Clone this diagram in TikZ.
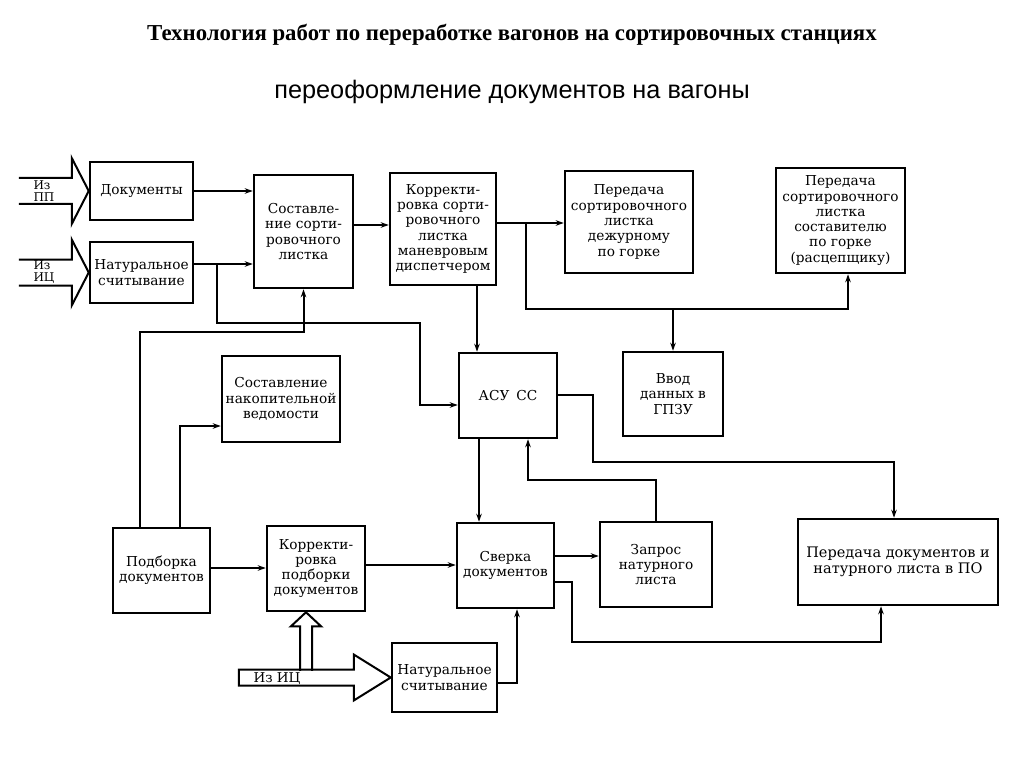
\documentclass[tikz,border=0pt]{standalone}
\usepackage{fontspec}
\setmainfont{DejaVu Serif}
\newfontfamily\titlefont{Liberation Serif}
\newfontfamily\subfont{Liberation Sans}
\usepackage{tikz}
\usetikzlibrary{arrows.meta,calc,positioning}

\begin{document}
\begin{tikzpicture}[
    x=1pt, y=-1pt,
    box/.style={rectangle, draw, line width=2.5pt, align=center, inner sep=2pt, font=\fontsize{13.7}{15.3}\selectfont},
    lbl/.style={align=left, inner sep=0pt, font=\fontsize{12}{11.5}\selectfont},
    fat/.style={draw, line width=2pt, line join=miter},
    arrow/.style={->, >={Stealth[length=8pt,width=5.5pt]}, line width=2pt}
]
    \useasboundingbox (0,0) rectangle (1024,767);

    % Titles
    \node[font=\titlefont\bfseries\fontsize{22.8}{24}\selectfont] (title) at (512,35) {Технология работ по переработке вагонов на сортировочных станциях};
    \node[font=\subfont\fontsize{25.3}{28}\selectfont] (subtitle) at (512,92) {переоформление документов на вагоны};

    % Inputs
    \node[box, minimum width=103, minimum height=58] (docs) at (141.5,191) {Документы};
    \node[box, minimum width=103, minimum height=61] (nattop) at (141.5,272.5) {Натуральное\\считывание};

    % Sorting list
    \node[box, minimum width=99, minimum height=113] (sost) at (303.5,231.5) {Составле-\\ние сорти-\\ровочного\\листка};
    \node[box, minimum width=106, minimum height=112] (korr) at (443,229) {Корректи-\\ровка сорти-\\ровочного\\листка\\маневровым\\диспетчером};
    \node[box, minimum width=128, minimum height=102] (dezh) at (629,222) {Передача\\сортировочного\\листка\\дежурному\\по горке};
    \node[box, minimum width=129, minimum height=105] (rasc) at (840.5,220.5) {Передача\\сортировочного\\листка\\составителю\\по горке\\(расцепщику)};

    % Middle row
    \node[box, minimum width=118, minimum height=86] (nakop) at (281,399) {Составление\\накопительной\\ведомости};
    \node[box, minimum width=98, minimum height=85] (asu) at (508,395.5) {АСУ\enspace СС};
    \node[box, minimum width=100, minimum height=84] (vvod) at (673,394) {Ввод\\данных в\\ГПЗУ};

    % Bottom row
    \node[box, minimum width=97, minimum height=85] (podb) at (161.5,570.5) {Подборка\\документов};
    \node[box, minimum width=98, minimum height=85] (korp) at (316,568.5) {Корректи-\\ровка\\подборки\\документов};
    \node[box, minimum width=97, minimum height=85] (sver) at (505.5,565.5) {Сверка\\документов};
    \node[box, minimum width=112, minimum height=85] (zapr) at (656,564.5) {Запрос\\натурного\\листа};
    \node[box, minimum width=200, minimum height=86, font=\fontsize{14.5}{16}\selectfont] (pered) at (898,562) {Передача документов и\\натурного листа в ПО};
    \node[box, minimum width=105, minimum height=69] (natbot) at (444.5,677.5) {Натуральное\\считывание};

    % Fat input arrows
    \draw[fat, shift={(docs.west)}] (-70,-13) -- (-17,-13) -- (-17,-33) -- (0,0) -- (-17,33) -- (-17,13) -- (-70,13);
    \draw[fat, shift={(nattop.west)}] (-70,-13) -- (-17,-13) -- (-17,-33) -- (0,0) -- (-17,33) -- (-17,13) -- (-70,13);
    \draw[fat, shift={(natbot.west)}] (-152,-8) -- (-37,-8) -- (-37,-23) -- (0,0) -- (-37,23) -- (-37,8) -- (-152,8) -- cycle;
    \draw[fat, shift={([xshift=-10pt]korp.south)}] (-6,58.5) -- (-6,14) -- (-15,14) -- (0,0) -- (15,14) -- (6,14) -- (6,58.5);
    \node[lbl] (frompp) at (44,191) {Из\\ПП};
    \node[lbl] (fromic) at (44,272) {Из\\ИЦ};
    \node[lbl, font=\fontsize{13.5}{14}\selectfont] (fromicb) at (277,679) {Из ИЦ};

    % Corner points
    \coordinate (n1) at ([yshift=8.5pt]nattop.east);
    \coordinate (n2) at (217,323);
    \coordinate (n3) at (420,323);
    \coordinate (s1) at ([yshift=6.5pt]sost.east);
    \coordinate (k1) at ([yshift=6pt]korr.east);
    \coordinate (k2) at (526,309);
    \coordinate (k3) at ([xshift=7.5pt]rasc.south);
    \coordinate (k4) at ([xshift=34pt]korr.south);
    \coordinate (a0) at ([yshift=0.5pt]asu.east);
    \coordinate (a1) at (593,462);
    \coordinate (a2) at ([xshift=-29pt]asu.south);
    \coordinate (a3) at ([xshift=-4pt]pered.north);
    \coordinate (a4) at ([yshift=-9.5pt]asu.west);
    \coordinate (z1) at (528,480);
    \coordinate (v1) at ([yshift=9.5pt]sver.east);
    \coordinate (v2) at ([yshift=-16.5pt]sver.east);
    \coordinate (v3) at (572,642);
    \coordinate (v4) at ([xshift=11.5pt]sver.south);
    \coordinate (b1) at ([yshift=-5.5pt]natbot.east);
    \coordinate (p1) at ([yshift=2.5pt]podb.east);
    \coordinate (p2) at ([yshift=3.5pt]korp.east);
    \coordinate (p3) at ([xshift=-21.5pt]podb.north);
    \coordinate (p4) at ([xshift=18.5pt]podb.north);
    \coordinate (p5) at (200,332);

    % Arrows
    \draw[arrow] (docs.east) -- (docs.east -| sost.west);
    \draw[arrow] (n1) -- (n1 -| sost.west);
    \draw[arrow] (n1 -| n2) |- (n3) |- (a4);
    \draw[arrow] (s1) -- (s1 -| korr.west);
    \draw[arrow] (k1) -- (k1 -| dezh.west);
    \draw[arrow] (k1 -| k2) |- (k2) -| (k3);
    \draw[arrow] (k2 -| vvod.north) -- (vvod.north);
    \draw[arrow] (k4) -- (k4 |- asu.north);
    \draw[arrow] (a0) -| (a1) -| (a3);
    \draw[arrow] (a2) -- (a2 |- sver.north);
    \draw[arrow] (zapr.north) |- (z1) -- (z1 |- asu.south);
    \draw[arrow] (v1) -- (v1 -| zapr.west);
    \draw[arrow] (v2) -| (v3) -| ([xshift=-17pt]pered.south);
    \draw[arrow] (b1) -| (v4);
    \draw[arrow] (p1) -- (p1 -| korp.west);
    \draw[arrow] (p2) -- (p2 -| sver.west);
    \draw[arrow] (p3) |- (p5) -| (sost.south);
    \draw[arrow] (p4) |- ([yshift=-27pt]nakop.west);

\end{tikzpicture}
\end{document}
